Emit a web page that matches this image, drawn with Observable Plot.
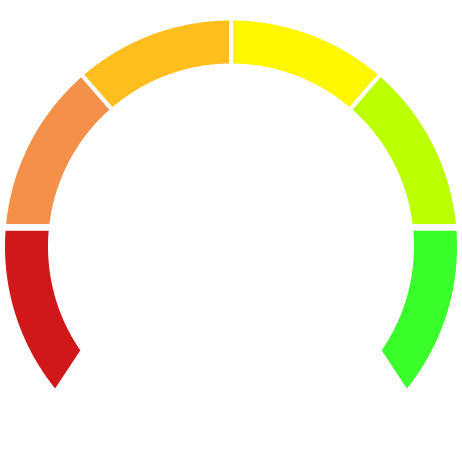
<!DOCTYPE html>
<html><head><meta charset="utf-8">
<script src="https://cdn.jsdelivr.net/npm/d3@7"></script>
<script src="https://cdn.jsdelivr.net/npm/@observablehq/plot@0.6"></script>
<style>html,body{margin:0;padding:0;background:#fff}</style>
</head><body><div id="chart"></div>
<script>
// Gauge bands (left to right)
const bands = ["Band 1", "Band 2", "Band 3", "Band 4", "Band 5", "Band 6"];
const bandColors = ["#d0181a", "#f4904a", "#febe1e", "#fff700", "#bbff00", "#3aff2a"];
// band edges on the dial, degrees clockwise from 12 o'clock
const bandEdges = [-129.6, -85.2, -41, 0, 41, 85.2, 129.6];

// ---- layout (px) ----
const W = 462, H = 462, cx = 231, cy = 246.5;
const R = 228, r = 181;          // path radii (white 4px stroke trims 2px)
const rIn = r / R;
const endInset = 4.6;            // inner edge of the two outer ends is cut back (deg)
const sideHalfGap = 1.3;         // extra half-gap for the horizontal side cuts (px)
const steps = 80;
const rad = d => d * Math.PI / 180;
const deg = a => a * 180 / Math.PI;

// angle (deg, clockwise from top) where a horizontal line dy px above centre meets radius rho
function horizAngle(sign, dy, rho) { return sign * (90 - deg(Math.asin(dy / rho))); }

// returns {o, i} angles for a band edge: idx = edge index, side = +1 if the band lies after the edge
function edgeAngles(idx, side) {
  const a = bandEdges[idx];
  if (idx === 0) return {o: a, i: a + endInset};
  if (idx === bandEdges.length - 1) return {o: a, i: a - endInset};
  if (Math.abs(a) > 80) {
    const sign = Math.sign(a);
    const dyMid = R * Math.cos(rad(a));
    const above = (sign < 0) ? side > 0 : side < 0;
    const dy = dyMid + (above ? sideHalfGap : -sideHalfGap);
    return {o: horizAngle(sign, dy, R), i: horizAngle(sign, dy, r)};
  }
  return {o: a, i: a};
}

const pts = [];
bands.forEach((b, k) => {
  const s = edgeAngles(k, +1), e = edgeAngles(k + 1, -1);
  for (let j = 0; j <= steps; j++) {
    const t = j / steps;
    const ao = rad(s.o + (e.o - s.o) * t), ai = rad(s.i + (e.i - s.i) * t);
    pts.push({band: b, xo: Math.sin(ao), yo: Math.cos(ao), xi: rIn * Math.sin(ai), yi: rIn * Math.cos(ai)});
  }
});

const chart = Plot.plot({
  width: W, height: H,
  margin: 0,
  x: {domain: [-cx / R, (W - cx) / R], axis: null},
  y: {domain: [-(H - cy) / R, cy / R], axis: null},
  color: {domain: bands, range: bandColors},
  marks: [
    Plot.area(pts, {x1: "xo", y1: "yo", x2: "xi", y2: "yi", z: "band", fill: "band",
      stroke: "white", strokeWidth: 4, strokeLinejoin: "round", curve: "linear"})
  ]
});
document.getElementById("chart").append(chart);
</script>
</body></html>
